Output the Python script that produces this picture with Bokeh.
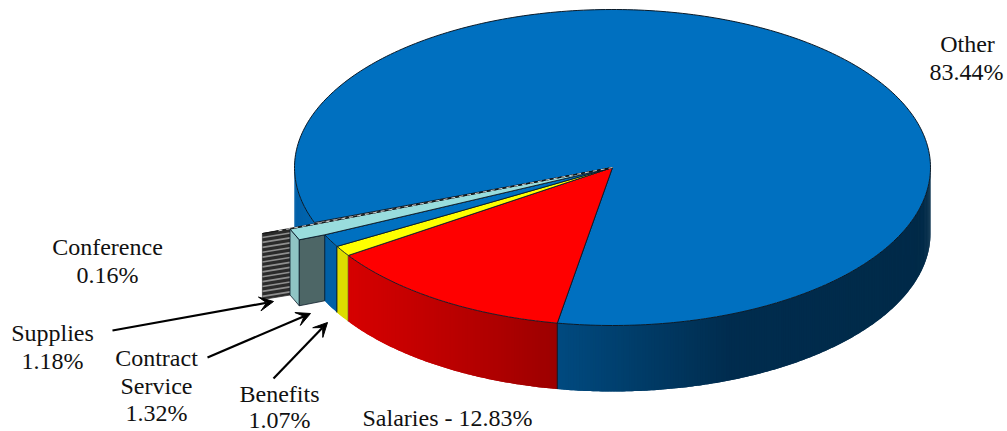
import numpy as np
from bokeh.plotting import figure
from bokeh.models import Arrow, VeeHead
from bokeh.core.properties import value
from bokeh.embed import file_html
from bokeh.resources import INLINE

# ---- data ----
categories = ["Salaries", "Benefits", "Contract Service", "Supplies", "Conference", "Other"]
shares = [12.83, 1.07, 1.32, 1.18, 0.16, 83.44]
share_labels = ["12.83%", "1.07%", "1.32%", "1.18%", "0.16%", "83.44%"]

# ---- geometry of the projected pie (page pixels) ----
CX, CY, RX, RY, DEPTH = 612.0, 167.0, 318.0, 158.0, 66.0
START = 100.0
TEAL_PULL = (-25.5, 5.0)
SLIVER_PULL = (-52.0, 11.0)

TOP = {"Salaries": "#ff0000", "Benefits": "#ffff00", "Contract Service": "#0070c0",
       "Supplies": "#99dddd", "Conference": "#555555", "Other": "#0070c0"}
EDGE = "#0a1a28"

edges = START + np.cumsum([0.0] + shares) * 3.6
ang = dict(zip(categories, zip(edges[:-1], edges[1:])))


def rim(t):
    t = np.radians(t)
    return CX + RX * np.cos(t), CY + RY * np.sin(t)


def arc(a, b, step=1.0):
    n = max(2, int(abs(b - a) / step) + 1)
    ts = np.linspace(a, b, n)
    return rim(ts)


def hex2rgb(h):
    return [int(h[i:i + 2], 16) for i in (1, 3, 5)]


def shade(x, stops):
    xs = [s[0] for s in stops]
    cs = np.array([hex2rgb(s[1]) for s in stops], float)
    return "#%02x%02x%02x" % tuple(int(round(np.interp(x, xs, cs[:, i]))) for i in range(3))


p = figure(width=1007, height=431, x_range=(0, 1007), y_range=(431, 0),
           output_backend="svg", toolbar_location=None, min_border=0, outline_line_color=None)
p.axis.visible = False
p.grid.visible = False
p.background_fill_color = "white"
p.border_fill_color = "white"


def side(a, b, stops, step=1.0):
    """Outer wall of a slice, as narrow strips shaded along x. Each strip runs on
    under the next one, so that no seams show between them."""
    n = max(2, int(abs(b - a) / step) + 1)
    ts = np.linspace(a, b, n)
    xs, ys, cols = [], [], []
    for i in range(n - 1):
        seg = ts[i:i + 3]
        x, y = rim(seg)
        xs.append(np.r_[x, x[::-1]])
        ys.append(np.r_[y, y[::-1] + DEPTH])
        cols.append(shade((x[0] + x[1]) / 2, stops))
    p.patches(xs, ys, fill_color=cols, line_color=None)


def vline(t, dx=0.0, dy=0.0, color=EDGE, w=0.8):
    x, y = rim(t)
    p.line([x + dx, x + dx], [y + dy, y + dy + DEPTH], line_color=color, line_width=w)


# --- walls, back to front ---
a_o0, a_o1 = ang["Other"]
# left part of the Other wall, seen behind the pulled slices
side(a_o0, 180.0, [(294, "#0060a8"), (330, "#0068b4")])
# right part of the Other wall (drawn from the right rim towards the seam)
side(0.0, START, [(557, "#004a80"), (640, "#003c68"), (730, "#002c4e"), (930, "#002a48")], step=0.5)

# Conference wall (pulled)
c0, c1 = ang["Conference"]
sx0, sy0 = rim(c0)
sx0 += TEAL_PULL[0]; sy0 += TEAL_PULL[1]
sx1, sy1 = rim(c1)
sx1 += SLIVER_PULL[0]; sy1 += SLIVER_PULL[1]
p.patch([sx0, sx1, sx1, sx0], [sy0, sy1, sy1 + DEPTH, sy0 + DEPTH],
        fill_color="#2b2b2b", line_color="#333333", line_width=0.8)
bands = np.arange(3.0, DEPTH - 1, 4.9)
p.multi_line([[sx0, sx1] for _ in bands],
             [[sy0 + d + 1, sy1 + d + 1] for d in bands],
             line_color="#8f8f8f", line_width=1.7)

# Supplies walls (pulled)
s0, s1 = ang["Supplies"]
tx0, ty0 = rim(s0)
tx1, ty1 = rim(s1)
nx, ny = tx0 + TEAL_PULL[0], ty0 + TEAL_PULL[1]
fx, fy = tx1 + TEAL_PULL[0], ty1 + TEAL_PULL[1]
p.patch([fx, nx, nx, fx], [fy, ny, ny + DEPTH, fy + DEPTH],
        fill_color="#8fc4c4", line_color=EDGE, line_width=0.8)
p.patch([nx, tx0, tx0, nx], [ny, ty0, ty0 + DEPTH, ny + DEPTH],
        fill_color="#4d6666", line_color=EDGE, line_width=0.8)

# Contract Service, Benefits, Salaries walls
b0, b1 = ang["Contract Service"]
side(b0, b1, [(325, "#0060a6"), (338, "#0060a6")])
vline(b0); vline(b1)
y0a, y1a = ang["Benefits"]
side(y0a, y1a, [(338, "#dddd00"), (348, "#dddd00")])
vline(y0a); vline(y1a)
r0, r1 = ang["Salaries"]
side(r1, r0, [(348, "#d60000"), (450, "#bb0000"), (557, "#9c0000")], step=0.5)
vline(r0, w=1.0)

# --- top faces ---
xo, yo = arc(a_o0, START + 360)
p.patch(np.r_[CX, xo], np.r_[CY, yo], fill_color=TOP["Other"], line_color=EDGE, line_width=1.0)

for name in ["Salaries", "Benefits", "Contract Service"]:
    a, b = ang[name]
    xa, ya = arc(a, b)
    p.patch(np.r_[CX, xa], np.r_[CY, ya], fill_color=TOP[name], line_color=EDGE, line_width=0.9)

p.patch([CX, tx0, nx, fx], [CY, ty0, ny, fy], fill_color=TOP["Supplies"], line_color=EDGE, line_width=0.9)
p.patch([CX, sx0, sx1], [CY, sy0, sy1], fill_color=TOP["Conference"], line_color="#111111", line_width=0.8)
p.line([CX, sx1 + (sx0 - sx1) / 2], [CY, sy1 + (sy0 - sy1) / 2], line_color="#ffffff",
       line_width=0.8, line_dash="4 4")

# --- labels ---
F = value("Liberation Serif")
S = value("24px")


def label(x, y, s, size=S):
    p.text([x], [y], text=[s], text_font=F, text_font_size=size, text_align="center",
           text_baseline="middle", text_color="#111111")


name_of = dict(zip(categories, share_labels))
label(967, 43, "Other"); label(966, 71, name_of["Other"])
label(107, 246, "Conference"); label(107, 274, name_of["Conference"])
label(52, 332, "Supplies"); label(52, 360, name_of["Supplies"])
label(156, 357, "Contract"); label(156, 385, "Service"); label(156, 412, name_of["Contract Service"])
label(279, 393, "Benefits"); label(279, 419, name_of["Benefits"])
label(447, 417, "Salaries - " + name_of["Salaries"])

# --- leader arrows ---
for xs, ys, xe, ye in [(112, 330, 273, 301), (207, 357, 310, 313), (273, 378, 327, 322)]:
    p.add_layout(Arrow(end=VeeHead(size=14, fill_color="black", line_color="black", line_width=1),
                       x_start=xs, y_start=ys, x_end=xe, y_end=ye,
                       line_color="black", line_width=2.2))

open("out.html", "w").write(file_html(p, INLINE))
